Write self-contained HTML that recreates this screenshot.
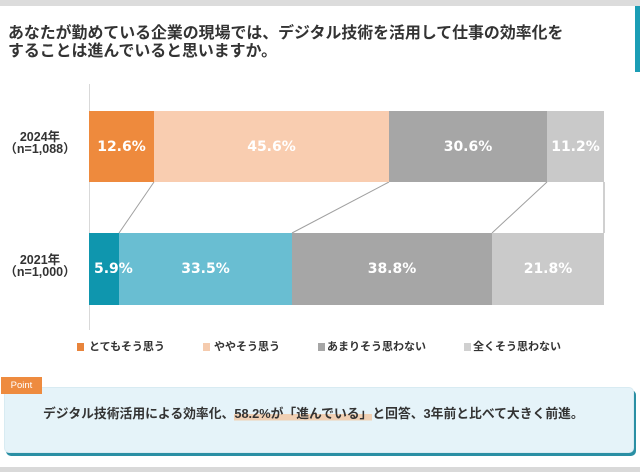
<!DOCTYPE html>
<html><head><meta charset="utf-8"><style>
*{margin:0;padding:0;box-sizing:border-box}
html,body{width:640px;height:472px;background:#fff;overflow:hidden}
body{position:relative;font-family:"Liberation Sans","Noto Sans CJK JP",sans-serif;color:#333}
.abs{position:absolute}
.title{left:8px;top:25px;font-size:15.9px;line-height:17.5px;font-weight:bold;color:#333;white-space:nowrap}
.seg{position:absolute;display:flex;align-items:center;justify-content:center;color:#fff;font-family:"DejaVu Sans",sans-serif;font-weight:bold;font-size:14px;white-space:nowrap}
.ylab{position:absolute;left:0;width:80px;text-align:center;font-weight:bold;font-size:12.5px;line-height:12px;color:#333}
.lg{position:absolute;top:340px;font-size:11px;line-height:14px;font-weight:bold;color:#333;white-space:nowrap}
.sq{position:absolute;top:343px;width:7px;height:8px}
</style></head><body>
<div class="abs" style="left:0;top:0;width:640px;height:6px;background:#dcdcdc"></div>
<div class="abs" style="left:635px;top:6px;width:5px;height:66px;background:#1b9db5"></div>
<div class="abs title">あなたが勤めている企業の現場では、デジタル技術を活用して仕事の効率化を<br>することは進んでいると思いますか。</div>

<svg class="abs" style="left:0;top:0" width="640" height="472">
<line x1="89.5" y1="84" x2="89.5" y2="330" stroke="#d9d9d9" stroke-width="1"/>
<line x1="154" y1="182" x2="119" y2="233" stroke="#a0a0a0" stroke-width="1"/>
<line x1="389" y1="182" x2="292" y2="233" stroke="#a0a0a0" stroke-width="1"/>
<line x1="547" y1="182" x2="492" y2="233" stroke="#a0a0a0" stroke-width="1"/>
<line x1="604" y1="182" x2="604" y2="233" stroke="#a0a0a0" stroke-width="1"/>
</svg>

<div class="ylab" style="top:131px">2024年<br>（n=1,088）</div>
<div class="ylab" style="top:254px">2021年<br>（n=1,000）</div>

<div class="seg" style="left:89px;top:111px;width:65px;height:71px;background:#ee8a3d">12.6%</div>
<div class="seg" style="left:154px;top:111px;width:235px;height:71px;background:#f9cdb0">45.6%</div>
<div class="seg" style="left:389px;top:111px;width:158px;height:71px;background:#a6a6a6">30.6%</div>
<div class="seg" style="left:547px;top:111px;width:57px;height:71px;background:#c9c9c9">11.2%</div>

<div class="seg" style="left:89px;top:233px;width:30px;height:72px;background:#0f96ae"></div>
<div class="seg" style="left:119px;top:233px;width:173px;height:72px;background:#69bed2">33.5%</div>
<div class="seg" style="left:292px;top:233px;width:200px;height:72px;background:#a6a6a6">38.8%</div>
<div class="seg" style="left:492px;top:233px;width:112px;height:72px;background:#cacaca">21.8%</div>
<div class="seg" style="left:94px;top:233px;width:39px;height:72px;justify-content:flex-start">5.9%</div>

<div class="sq" style="left:77px;background:#e8843b"></div><div class="lg" style="left:89px">とてもそう思う</div>
<div class="sq" style="left:203px;background:#f5cbae"></div><div class="lg" style="left:214px">ややそう思う</div>
<div class="sq" style="left:318px;background:#a6a6a6"></div><div class="lg" style="left:327px">あまりそう思わない</div>
<div class="sq" style="left:464px;background:#d0d0d0"></div><div class="lg" style="left:473px">全くそう思わない</div>

<div class="abs" style="left:4px;top:387px;width:630px;height:66px;background:#e5f3f9;border:1px solid #d8ebf2;border-radius:5px;box-shadow:2px 3px 0 #2a8fa4"></div>
<div class="abs" style="left:1px;top:377px;width:41px;height:17px;background:#ee8b3f;color:#fff;font-size:9.5px;line-height:17px;text-align:center">Point</div>
<div class="abs" style="left:43px;top:405px;font-size:12.8px;line-height:18px;font-weight:bold;color:#333;white-space:nowrap">デジタル技術活用による効率化、<span style="background:linear-gradient(to bottom,transparent 55%,#f0d0b4 55%,#f0d0b4 98%,transparent 98%)">58.2%が「進んでいる」</span>と回答、3年前と比べて大きく前進。</div>

<div class="abs" style="left:0;top:467px;width:640px;height:5px;background:#d9d9d9"></div>
</body></html>
